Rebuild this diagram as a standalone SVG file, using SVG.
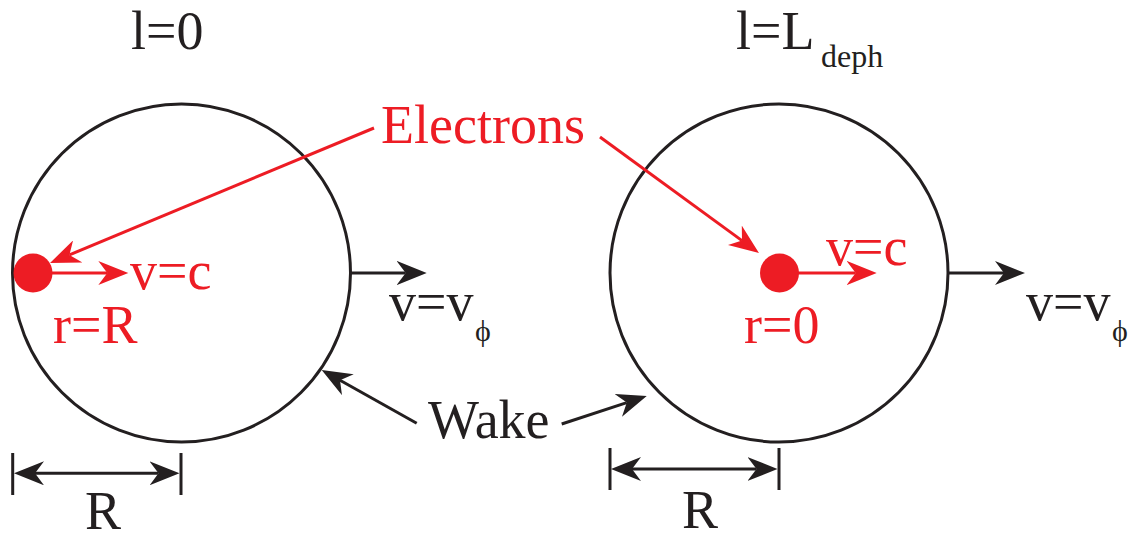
<svg xmlns="http://www.w3.org/2000/svg" width="1139" height="541" viewBox="0 0 1139 541">
<style>
text{font-family:'Liberation Serif','Times New Roman',serif;font-size:54px;fill:#231f20}
.r{fill:#ed1c24}
.sub{font-size:32px}
.phi{font-size:30px}
.wake{fill:none;stroke:#231f20;stroke-width:3}
.ln{fill:none;stroke:#231f20;stroke-width:3}
.lnr{fill:none;stroke:#ed1c24;stroke-width:3}
</style>
<defs>
<marker id="ak" viewBox="0 -12 31 24" refX="9" refY="0" markerWidth="31" markerHeight="24" markerUnits="userSpaceOnUse" orient="auto-start-reverse">
<path d="M0,-12 L30,0 L0,12 L9,0 Z" fill="#231f20"/>
</marker>
<marker id="ar" viewBox="0 -12 31 24" refX="9" refY="0" markerWidth="31" markerHeight="24" markerUnits="userSpaceOnUse" orient="auto">
<path d="M0,-12 L30,0 L0,12 L9,0 Z" fill="#ed1c24"/>
</marker>
</defs>

<g id="wake-left">
<circle class="wake" cx="181.5" cy="273" r="169"/>
</g>
<g id="wake-right">
<circle class="wake" cx="779" cy="273" r="169"/>
</g>

<g id="title-left"><text x="131" y="48.5">l=0</text></g>
<g id="title-right"><text x="736" y="48.5">l=L<tspan class="sub" x="821" y="67">deph</tspan></text></g>

<g id="electrons-label"><text class="r" x="381" y="142.7">Electrons</text></g>
<g id="wake-label"><text x="428" y="438.3">Wake</text></g>

<g id="electron-left">
<circle class="r" cx="33" cy="273" r="19.5"/>
<text class="r" x="130" y="289">v=c</text>
<text class="r" x="53" y="343">r=R</text>
</g>
<g id="electron-right">
<circle class="r" cx="779.5" cy="273" r="19.5"/>
<text class="r" x="826" y="265">v=c</text>
<text class="r" x="744" y="343">r=0</text>
</g>

<g id="vphi-left"><text x="389" y="320">v=v<tspan class="phi" x="475" y="341">ϕ</tspan></text></g>
<g id="vphi-right"><text x="1026" y="320">v=v<tspan class="phi" x="1112" y="341">ϕ</tspan></text></g>

<g id="dim-left">
<line class="ln" x1="12.7" y1="453" x2="12.7" y2="495"/>
<line class="ln" x1="181" y1="453" x2="181" y2="495"/>
<text x="85" y="529">R</text>
</g>
<g id="dim-right">
<line class="ln" x1="610" y1="448" x2="610" y2="490"/>
<line class="ln" x1="779" y1="448" x2="779" y2="490"/>
<text x="682" y="528">R</text>
</g>

<g id="connectors">
<line class="lnr" x1="50" y1="273" x2="107.3" y2="273" marker-end="url(#ar)"/>
<line class="lnr" x1="795" y1="273" x2="855.7" y2="273" marker-end="url(#ar)"/>
<line class="lnr" x1="374" y1="128" x2="69.4" y2="254.9" marker-end="url(#ar)"/>
<line class="lnr" x1="600" y1="137" x2="742" y2="240.6" marker-end="url(#ar)"/>
<line class="ln" x1="350" y1="273" x2="405.7" y2="273" marker-end="url(#ak)"/>
<line class="ln" x1="948" y1="273" x2="1004" y2="273" marker-end="url(#ak)"/>
<line class="ln" x1="416.7" y1="423.3" x2="340" y2="380.3" marker-end="url(#ak)"/>
<line class="ln" x1="561.7" y1="424" x2="626.8" y2="402.6" marker-end="url(#ak)"/>
<line class="ln" x1="35" y1="473.3" x2="158.5" y2="473.3" marker-start="url(#ak)" marker-end="url(#ak)"/>
<line class="ln" x1="632" y1="469" x2="756.5" y2="469" marker-start="url(#ak)" marker-end="url(#ak)"/>
</g>
</svg>
